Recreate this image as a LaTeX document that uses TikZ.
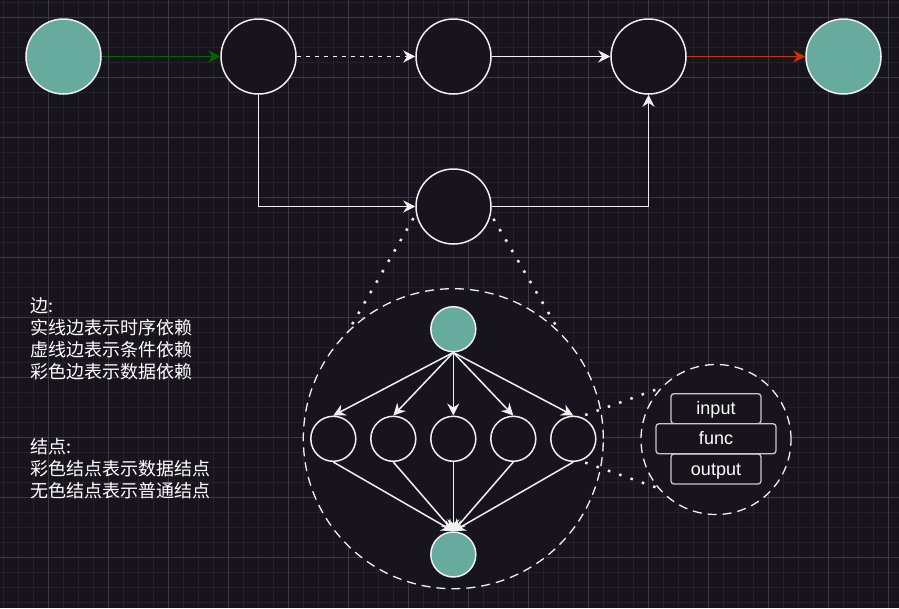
\documentclass[tikz,border=0pt]{standalone}
\usepackage{fontspec}
\setmainfont{Noto Sans CJK SC}
\newfontfamily\labelfont{Liberation Sans}
\usepackage{tikz}
\usetikzlibrary{arrows.meta, positioning}
\definecolor{bgdark}{HTML}{18141D}
\definecolor{gridminor}{HTML}{25212B}
\definecolor{gridmajor}{HTML}{3C3943}
\definecolor{datagreen}{HTML}{67AB9F}
\definecolor{edgegray}{HTML}{F0F0F0}
\definecolor{boxgray}{HTML}{C8C8C8}
\definecolor{edgegreen}{HTML}{006600}
\definecolor{edgered}{HTML}{C73500}

\tikzset{
	task/.style={circle, draw=edgegray, fill=bgdark, line width=1.5pt, minimum size=75pt, inner sep=0pt},
	data/.style={task, fill=datagreen},
	little/.style={minimum size=45pt},
	arr/.style={edgegray, line width=1.5pt, -{Stealth[length=12pt, width=12pt, inset=4pt]}},
	dots/.style={edgegray, line width=2.5pt, dash pattern=on 2.5pt off 9.5pt, dash phase=7pt},
	zoomring/.style={circle, draw=edgegray, fill=bgdark, line width=1.3pt, dash pattern=on 9pt off 6pt, inner sep=0pt},
	field/.style={draw=boxgray, fill=bgdark, rounded corners=3pt, line width=1.3pt, minimum height=30pt, inner sep=0pt, text height=16pt, text depth=4pt, text=white, font=\labelfont\fontsize{18}{18}\selectfont},
	note/.style={anchor=north west, align=left, inner sep=0pt, text=white, font=\fontsize{18}{22}\selectfont}
}

\begin{document}
\begin{tikzpicture}[x=1pt, y=-1pt]
		\useasboundingbox (0,0) rectangle (899,608);
		\fill [bgdark] (0,0) rectangle (899,608);
		\foreach \i in {3.3,18.3,...,899}{
			\draw [gridminor, line width=1pt] (\i,0)--(\i,608);
		}
		\foreach \i in {2.3,17.3,...,608}{
			\draw [gridminor, line width=1pt] (0,\i)--(899,\i);
		}
		\foreach \i in {48.3,108.3,...,899}{
			\draw [gridmajor, line width=1pt] (\i,0)--(\i,608);
		}
		\foreach \i in {17.3,77.3,...,608}{
			\draw [gridmajor, line width=1pt] (0,\i)--(899,\i);
		}
		
		% top chain
		\node [data] (d0) at (63.5,56.5) {};
		\node [task] (n1) at (258.5,56.5) {};
		\node [task] (n2) at (453.5,56.5) {};
		\node [task] (n3) at (648.5,56.5) {};
		\node [data] (d1) at (843.5,56.5) {};
		\node [task] (n4) at (453.5,206.5) {};
		\draw [arr, edgegreen] (d0)--(n1);
		\draw [arr, dash pattern=on 4.5pt off 4.5pt] (n1)--(n2);
		\draw [arr] (n2)--(n3);
		\draw [arr, edgered] (n3)--(d1);
		\draw [arr] (n1.south) |- (n4.west);
		\draw [arr] (n4.east) -| (n3.south);
		
		% zoom into n4
		\node [zoomring, minimum size=300pt] (ring) at (453.3,438.7) {};
		\draw [dots] (n4.191.5)--(ring.134.6);
		\draw [dots] (n4.348.5)--(ring.45.4);
		\node [data, little] (src) at (453.3,329.2) {};
		\node [data, little] (snk) at (453.3,554.5) {};
		\foreach \k in {1,...,5}{
			\node [task, little] (m\k) at (273.3+60*\k,438.8) {};
			\draw [arr] (src.south)--(m\k.north);
			\draw [arr] (m\k.south)--(snk.north);
		}
		
		% zoom into m5
		\node [zoomring, minimum size=150pt] (zring) at (716,439.5) {};
		\draw [dots] (m5.72)--(zring.137.4);
		\draw [dots] (m5.-72)--(zring.-140);
		\node [field, minimum width=90pt] (inp) at (716,408.7) {input};
		\node [field, minimum width=90pt] (outp) at (716,469) {output};
		\node [field, minimum width=120pt] (fn) at (716,438.7) {func};
		
		% legend
		\node [note] (edgenote) at (30.5,297) {边:\\实线边表示时序依赖\\虚线边表示条件依赖\\彩色边表示数据依赖};
		\node [note] (nodenote) at (30.5,438) {结点:\\彩色结点表示数据结点\\无色结点表示普通结点};
	\end{tikzpicture}
\end{document}
